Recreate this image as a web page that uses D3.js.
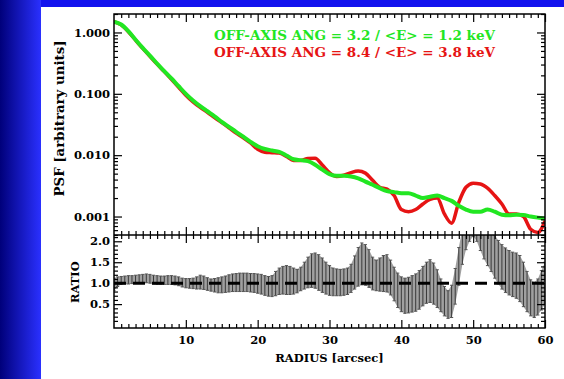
<!DOCTYPE html>
<html>
<head>
<meta charset="utf-8">
<script src="https://cdn.jsdelivr.net/npm/d3@7"></script>
<style>
    html, body { margin: 0; padding: 0; background: #fff; }
    svg { display: block; }
    text { font-family: "DejaVu Serif", serif; font-weight: bold; fill: #000; }
</style>
</head>
<body>
<svg id="vis" width="564" height="379"></svg>
<script>
/**
 * Chart data
 */
// PSF profiles, one value per arcsec
var psfRadius = d3.range(0, 61);
var psfGreen = [1.5, 1.35, 1.05, 0.76, 0.56, 0.42, 0.31, 0.235, 0.178, 0.133,
    0.100, 0.078, 0.063, 0.052, 0.043, 0.035, 0.029, 0.024, 0.020, 0.0165,
    0.0140, 0.0126, 0.0119, 0.0113, 0.0099, 0.0086, 0.0083, 0.0080, 0.0070, 0.0058,
    0.0049, 0.0046, 0.0046, 0.0045, 0.0042, 0.0037, 0.0033, 0.0029, 0.0026, 0.0025,
    0.0024, 0.0024, 0.0022, 0.0020, 0.0021, 0.0022, 0.0020, 0.0018, 0.0015, 0.0013,
    0.0012, 0.0012, 0.0013, 0.0012, 0.00107, 0.00105, 0.00107, 0.00106, 0.0010, 0.00096,
    0.00093];
var psfRed = [1.5, 1.33, 1.03, 0.75, 0.55, 0.41, 0.305, 0.23, 0.172, 0.128,
    0.095, 0.074, 0.060, 0.050, 0.041, 0.034, 0.028, 0.023, 0.0192, 0.0158,
    0.0125, 0.0112, 0.0110, 0.0108, 0.0095, 0.0082, 0.0082, 0.0088, 0.0089, 0.0069,
    0.0052, 0.0045, 0.0047, 0.0052, 0.0055, 0.0051, 0.0039, 0.0030, 0.0028, 0.0022,
    0.0013, 0.0012, 0.0013, 0.0016, 0.0019, 0.0020, 0.0011, 0.00078, 0.0017, 0.0030,
    0.0035, 0.0034, 0.0029, 0.0022, 0.0016, 0.0011, 0.0011, 0.0010, 0.00062, 0.00055,
    0.00085];

// ratio error bars, one bin per 0.5 arcsec
var ratioRadius = d3.range(0, 60.5, 0.5);
var ratioUpper = [1.12, 1.15, 1.16, 1.17, 1.18, 1.18, 1.19, 1.20, 1.21, 1.22,
    1.21, 1.19, 1.18, 1.17, 1.17, 1.18, 1.18, 1.17, 1.15, 1.12,
    1.11, 1.11, 1.12, 1.15, 1.19, 1.17, 1.13, 1.10, 1.11, 1.13,
    1.15, 1.17, 1.20, 1.22, 1.23, 1.24, 1.24, 1.24, 1.23, 1.23,
    1.22, 1.21, 1.18, 1.16, 1.18, 1.28, 1.36, 1.40, 1.42, 1.40,
    1.36, 1.33, 1.38, 1.50, 1.62, 1.70, 1.72, 1.68, 1.60, 1.50,
    1.42, 1.36, 1.34, 1.33, 1.34, 1.36, 1.45, 1.65, 1.85, 1.96,
    1.92, 1.80, 1.62, 1.55, 1.60, 1.66, 1.68, 1.55, 1.38, 1.24,
    1.15, 1.12, 1.14, 1.18, 1.22, 1.30, 1.40, 1.50, 1.56, 1.48,
    1.32, 1.10, 0.92, 0.82, 0.95, 1.35, 1.85, 2.30, 2.60, 2.80,
    2.90, 2.80, 2.70, 2.60, 2.50, 2.30, 2.15, 2.02, 1.92, 1.84,
    1.78, 1.74, 1.72, 1.66, 1.50, 1.28, 1.08, 1.02, 1.10, 1.30,
    1.50];
var ratioLower = [0.82, 0.92, 0.97, 0.98, 0.98, 0.99, 1.00, 1.00, 1.01, 1.01,
    1.00, 0.98, 0.97, 0.97, 0.97, 0.97, 0.97, 0.96, 0.94, 0.91,
    0.89, 0.88, 0.87, 0.86, 0.86, 0.85, 0.83, 0.81, 0.79, 0.77,
    0.77, 0.78, 0.79, 0.80, 0.80, 0.80, 0.80, 0.80, 0.79, 0.78,
    0.76, 0.74, 0.71, 0.69, 0.68, 0.70, 0.73, 0.74, 0.73, 0.73,
    0.74, 0.77, 0.82, 0.86, 0.89, 0.90, 0.88, 0.83, 0.78, 0.74,
    0.71, 0.70, 0.70, 0.70, 0.71, 0.73, 0.78, 0.86, 0.93, 0.96,
    0.95, 0.90, 0.84, 0.82, 0.81, 0.80, 0.79, 0.72, 0.58, 0.42,
    0.32, 0.28, 0.29, 0.31, 0.33, 0.38, 0.46, 0.52, 0.54, 0.50,
    0.42, 0.32, 0.22, 0.16, 0.18, 0.50, 0.95, 1.45, 1.80, 2.00,
    2.12, 2.00, 1.78, 1.58, 1.42, 1.28, 1.12, 0.98, 0.86, 0.78,
    0.72, 0.68, 0.64, 0.56, 0.44, 0.32, 0.22, 0.18, 0.24, 0.36,
    0.50];

// axes
var psfTicks = [1, 0.1, 0.01, 0.001];
var ratioTicks = [0.5, 1.0, 1.5, 2.0];
var radiusTicks = [10, 20, 30, 40, 50, 60];
var legendLabels = ["OFF-AXIS ANG = 3.2 / <E> = 1.2 keV", "OFF-AXIS ANG = 8.4 / <E> = 3.8 keV"];
var legendColors = ["#22e622", "#e61414"];

/**
 * Draw the chart
 */
window.onload = function(){
    let svg = d3.select("#vis");

    // background: white page with a blue band on the left and top
    let defs = svg.append("defs");
    let grad = defs.append("linearGradient").attr("id", "band")
        .attr("x1", 0).attr("x2", 1).attr("y1", 0).attr("y2", 0);
    grad.append("stop").attr("offset", "0%").attr("stop-color", "#00007a");
    grad.append("stop").attr("offset", "100%").attr("stop-color", "#2a30ff");
    svg.append("rect").attr("x", 0).attr("y", 0).attr("width", 564).attr("height", 379).style("fill", "#fff");
    svg.append("rect").attr("x", 0).attr("y", 0).attr("width", 564).attr("height", 7).style("fill", "#1212ee");
    svg.append("rect").attr("x", 0).attr("y", 0).attr("width", 41).attr("height", 379).style("fill", "url(#band)");

    // panel geometry
    let left = 114, right = 545, top = 14, mid = 235, bottom = 328;

    let xScale = d3.scaleLinear().domain([0, 60]).range([left, right]);
    let yPsf = d3.scaleLog().domain([0.0005, 2.0]).range([mid, top]);
    let yRatio = d3.scaleLinear().domain([-0.07, 2.15]).range([bottom, mid]);

    defs.append("clipPath").attr("id", "clipTop").append("rect")
        .attr("x", left).attr("y", top).attr("width", right - left).attr("height", mid - top);
    defs.append("clipPath").attr("id", "clipBot").append("rect")
        .attr("x", left).attr("y", mid).attr("width", right - left).attr("height", bottom - mid);

    // ---------- upper panel: PSF curves ----------
    let line = d3.line()
        .x(function(d){ return xScale(d[0]); })
        .y(function(d){ return yPsf(d[1]); })
        .curve(d3.curveMonotoneX);

    let gTop = svg.append("g").attr("clip-path", "url(#clipTop)");
    gTop.append("path")
        .datum(psfRadius.map(function(r, i){ return [r, psfRed[i]]; }))
        .attr("d", line)
        .style("fill", "none").style("stroke", legendColors[1]).style("stroke-width", 3.5)
        .style("stroke-linejoin", "round");
    gTop.append("path")
        .datum(psfRadius.map(function(r, i){ return [r, psfGreen[i]]; }))
        .attr("d", line)
        .style("fill", "none").style("stroke", legendColors[0]).style("stroke-width", 4)
        .style("stroke-linejoin", "round");

    svg.selectAll(".legend")
        .data(legendLabels)
        .enter()
        .append("text")
        .attr("class", "legend")
        .attr("x", 214)
        .attr("y", function(d, i){ return 40 + i * 17; })
        .attr("textLength", 281)
        .attr("lengthAdjust", "spacingAndGlyphs")
        .style("font-size", "12px")
        .style("fill", function(d, i){ return legendColors[i]; })
        .text(function(d){ return d; });

    // ---------- lower panel: ratio ----------
    let bins = ratioRadius.map(function(r, i){ return {r: r, lo: ratioLower[i], hi: ratioUpper[i]}; });
    let gBot = svg.append("g").attr("clip-path", "url(#clipBot)");

    gBot.append("path")
        .datum(bins)
        .attr("d", d3.area()
            .x(function(d){ return xScale(d.r); })
            .y0(function(d){ return yRatio(d.lo); })
            .y1(function(d){ return yRatio(d.hi); }))
        .style("fill", "#a0a0a0");

    gBot.selectAll(".bar")
        .data(bins)
        .enter()
        .append("line")
        .attr("class", "bar")
        .attr("x1", function(d){ return xScale(d.r); })
        .attr("x2", function(d){ return xScale(d.r); })
        .attr("y1", function(d){ return yRatio(d.lo); })
        .attr("y2", function(d){ return yRatio(d.hi); })
        .style("stroke", "#2e2e2e").style("stroke-width", 0.9);

    ["lo", "hi"].forEach(function(k){
        gBot.selectAll(".cap-" + k)
            .data(bins)
            .enter()
            .append("line")
            .attr("class", "cap-" + k)
            .attr("x1", function(d){ return xScale(d.r) - 1.6; })
            .attr("x2", function(d){ return xScale(d.r) + 1.6; })
            .attr("y1", function(d){ return yRatio(d[k]); })
            .attr("y2", function(d){ return yRatio(d[k]); })
            .style("stroke", "#555").style("stroke-width", 1);
    });

    gBot.append("line")
        .attr("x1", left).attr("x2", right)
        .attr("y1", yRatio(1)).attr("y2", yRatio(1))
        .style("stroke", "#000").style("stroke-width", 3)
        .style("stroke-dasharray", "12,7");

    // ---------- axes ----------
    function axisGroup(axis, tx, ty){
        let g = svg.append("g").attr("transform", "translate(" + tx + "," + ty + ")").call(axis);
        g.select(".domain").remove();
        g.selectAll("line").style("stroke", "#000").style("stroke-width", 1.2);
        g.selectAll("text").style("font-size", "11.5px").style("font-family", "DejaVu Serif").style("font-weight", "bold");
        return g;
    }

    let psfMinor = [];
    [0.0001, 0.001, 0.01, 0.1, 1].forEach(function(dec){
        for (let k = 2; k <= 9; k++) {
            let v = dec * k;
            if (v >= 0.0005 && v <= 2.0) psfMinor.push(v);
        }
    });
    let xMinor = d3.range(1, 60).filter(function(v){ return v % 10 !== 0; });
    let ratioMinor = d3.range(1, 22).map(function(v){ return v / 10; }).filter(function(v){ return Math.abs(v * 2 - Math.round(v * 2)) > 1e-6; });

    // upper panel left/right
    axisGroup(d3.axisLeft(yPsf).tickValues(psfTicks).tickSize(-8).tickPadding(4).tickFormat(d3.format(".3f")), left, 0);
    axisGroup(d3.axisLeft(yPsf).tickValues(psfMinor).tickSize(-4).tickFormat(""), left, 0);
    axisGroup(d3.axisRight(yPsf).tickValues(psfTicks).tickSize(-8).tickFormat(""), right, 0);
    axisGroup(d3.axisRight(yPsf).tickValues(psfMinor).tickSize(-4).tickFormat(""), right, 0);

    // upper panel top/bottom
    axisGroup(d3.axisTop(xScale).tickValues(radiusTicks).tickSize(-8).tickFormat(""), 0, top);
    axisGroup(d3.axisTop(xScale).tickValues(xMinor).tickSize(-4).tickFormat(""), 0, top);
    axisGroup(d3.axisBottom(xScale).tickValues(radiusTicks).tickSize(-8).tickFormat(""), 0, mid);
    axisGroup(d3.axisBottom(xScale).tickValues(xMinor).tickSize(-4).tickFormat(""), 0, mid);

    // lower panel
    axisGroup(d3.axisTop(xScale).tickValues(radiusTicks).tickSize(-8).tickFormat(""), 0, mid);
    axisGroup(d3.axisTop(xScale).tickValues(xMinor).tickSize(-4).tickFormat(""), 0, mid);
    axisGroup(d3.axisBottom(xScale).tickValues(radiusTicks).tickSize(-8).tickPadding(8).tickFormat(d3.format("d")), 0, bottom);
    axisGroup(d3.axisBottom(xScale).tickValues(xMinor).tickSize(-4).tickFormat(""), 0, bottom);
    axisGroup(d3.axisLeft(yRatio).tickValues(ratioTicks).tickSize(-8).tickPadding(4).tickFormat(d3.format(".1f")), left, 0);
    axisGroup(d3.axisLeft(yRatio).tickValues(ratioMinor).tickSize(-4).tickFormat(""), left, 0);
    axisGroup(d3.axisRight(yRatio).tickValues(ratioTicks).tickSize(-8).tickFormat(""), right, 0);
    axisGroup(d3.axisRight(yRatio).tickValues(ratioMinor).tickSize(-4).tickFormat(""), right, 0);

    // frames
    svg.append("rect").attr("x", left).attr("y", top).attr("width", right - left).attr("height", bottom - top)
        .style("fill", "none").style("stroke", "#000").style("stroke-width", 1.5);
    svg.append("line").attr("x1", left).attr("x2", right).attr("y1", mid).attr("y2", mid)
        .style("stroke", "#000").style("stroke-width", 1.5);

    // axis titles
    svg.append("text")
        .attr("transform", "translate(64," + ((top + mid) / 2 - 6) + ") rotate(-90)")
        .attr("text-anchor", "middle")
        .attr("textLength", 156)
        .attr("lengthAdjust", "spacingAndGlyphs")
        .style("font-size", "12.5px")
        .text("PSF [arbitrary units]");
    svg.append("text")
        .attr("transform", "translate(79," + (yRatio(1) - 1) + ") rotate(-90)")
        .attr("text-anchor", "middle")
        .style("font-size", "11.5px")
        .text("RATIO");
    svg.append("text")
        .attr("x", (left + right) / 2)
        .attr("y", 362)
        .attr("text-anchor", "middle")
        .style("font-size", "11.5px")
        .text("RADIUS [arcsec]");
};
</script>
</body>
</html>
